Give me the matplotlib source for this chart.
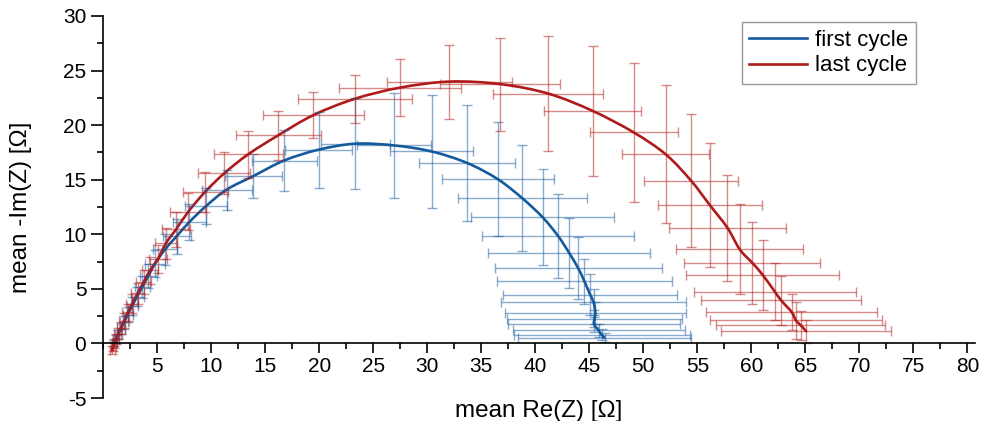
import numpy as np
import matplotlib.pyplot as plt
from matplotlib.ticker import MultipleLocator
from matplotlib.path import Path
from matplotlib.patches import PathPatch
from matplotlib.lines import Line2D

plt.rcParams['font.family'] = ['Liberation Sans', 'DejaVu Sans']
plt.rcParams['axes.unicode_minus'] = False

# first cycle: mean Re(Z), mean -Im(Z) and their std
first_x = [1.05, 1.2, 1.4, 1.65, 1.95, 2.3, 2.7, 3.15, 3.65, 4.2,
           4.81, 5.74, 6.82, 7.99, 9.54, 11.45, 13.92, 16.76, 19.94, 23.36,
           26.94, 30.40, 33.68, 36.53, 38.80, 40.68, 42.10, 43.12, 43.98, 44.54,
           45.09, 45.40, 45.56, 45.48, 45.44, 45.86, 46.14, 46.41]
first_y = [0.05, 0.4, 0.85, 1.35, 1.95, 2.65, 3.45, 4.3, 5.2, 6.2,
           7.31, 8.62, 9.83, 11.13, 12.59, 14.10, 15.34, 16.76, 17.75, 18.30,
           18.14, 17.59, 16.54, 15.05, 13.30, 11.56, 9.86, 8.32, 6.88, 5.71,
           4.45, 3.76, 2.78, 2.27, 1.74, 1.19, 0.80, 0.52]
first_xerr = [0.2, 0.25, 0.3, 0.35, 0.4, 0.45, 0.5, 0.6, 0.7, 0.8,
              0.9, 1.1, 1.30, 1.55, 1.93, 2.31, 2.62, 3.01, 3.08, 3.21,
              3.40, 3.86, 4.42, 5.17, 5.99, 6.64, 7.06, 7.53, 7.71, 8.07,
              8.07, 8.56, 8.36, 8.10, 7.98, 7.96, 8.15, 8.04]
first_yerr = [0.3, 0.35, 0.4, 0.5, 0.6, 0.7, 0.8, 0.9, 1.0, 1.1,
              1.22, 1.45, 1.61, 1.68, 1.61, 1.83, 2.06, 2.78, 3.47, 4.17,
              4.77, 5.17, 5.35, 5.23, 4.86, 4.40, 3.87, 3.21, 2.83, 2.06,
              1.88, 1.19, 1.0, 0.8, 0.7, 0.6, 0.5, 0.4]

# last cycle
last_x = [0.85, 0.95, 1.05, 1.2, 1.4, 1.65, 1.95, 2.3, 2.7, 3.2, 3.75,
          4.35, 5.06, 5.83, 6.76, 7.90, 9.44, 11.23, 13.45, 16.23, 19.47,
          23.29, 27.50, 32.06, 36.76, 41.20, 45.30, 49.10, 52.08, 54.42, 56.15,
          57.78, 58.92, 60.09, 61.06, 62.18, 62.76, 63.73, 64.12, 64.58, 65.07]
last_y = [-0.6, -0.3, 0.0, 0.4, 0.9, 1.45, 2.1, 2.85, 3.65, 4.6, 5.6,
          6.70, 7.72, 9.19, 10.46, 12.08, 13.88, 15.60, 17.34, 19.08, 20.92,
          22.41, 23.44, 23.99, 23.76, 22.89, 21.31, 19.34, 17.32, 14.91, 12.68,
          10.60, 8.62, 7.38, 6.26, 4.73, 3.94, 2.87, 2.11, 1.65, 1.12]
last_xerr = [0.25, 0.25, 0.25, 0.3, 0.35, 0.4, 0.45, 0.5, 0.55, 0.6, 0.7,
             0.75, 0.83, 1.02, 1.30, 1.67, 2.08, 2.41, 3.19, 3.94, 4.66,
             5.28, 5.67, 5.79, 5.56, 5.09, 4.51, 4.07, 4.03, 4.37, 4.83,
             5.44, 5.85, 6.30, 7.08, 7.50, 7.41, 7.94, 7.94, 7.81, 7.87]
last_yerr = [0.4, 0.4, 0.4, 0.45, 0.5, 0.55, 0.65, 0.75, 0.85, 0.95, 1.1,
             1.22, 1.27, 1.42, 1.61, 1.72, 1.83, 1.91, 2.14, 2.23, 2.14,
             2.20, 2.60, 3.39, 4.27, 5.26, 5.96, 6.38, 6.33, 6.08, 5.69,
             4.84, 4.13, 3.74, 3.21, 2.60, 2.23, 1.68, 1.68, 1.35, 1.07]

blue = '#145a9c'
red = '#b01a1a'


def spline_path(xs, ys):
    # smooth "spline connect" line through the points (cubic Bezier segments)
    p = np.column_stack([xs, ys])
    n = len(p)
    verts = [p[0]]
    codes = [Path.MOVETO]
    for i in range(n - 1):
        p0 = p[max(i - 1, 0)]
        p1 = p[i]
        p2 = p[i + 1]
        p3 = p[min(i + 2, n - 1)]
        verts += [p1 + (p2 - p0) / 6, p2 - (p3 - p1) / 6, p2]
        codes += [Path.CURVE4] * 3
    return Path(verts, codes)


fig = plt.figure(figsize=(9.86, 4.21), dpi=100)
ax = fig.add_axes([0.1045, 0.0546, 0.8844, 0.9074])

ax.errorbar(first_x, first_y, xerr=first_xerr, yerr=first_yerr, fmt='none',
            ecolor=blue, elinewidth=1.0, capsize=3.5, alpha=0.5)
ax.errorbar(last_x, last_y, xerr=last_xerr, yerr=last_yerr, fmt='none',
            ecolor=red, elinewidth=1.0, capsize=3.5, alpha=0.5)
ax.add_patch(PathPatch(spline_path(first_x, first_y), fill=False,
                       edgecolor=blue, lw=1.9, capstyle='round', joinstyle='round'))
ax.add_patch(PathPatch(spline_path(last_x, last_y), fill=False,
                       edgecolor=red, lw=1.9, capstyle='round', joinstyle='round'))

ax.set_xlim(0, 80.7)
ax.set_ylim(-5, 30)
ax.spines['top'].set_visible(False)
ax.spines['right'].set_visible(False)
ax.spines['bottom'].set_position(('data', 0))
for s in ['left', 'bottom']:
    ax.spines[s].set_linewidth(1.2)

ax.set_xticks(np.arange(5, 81, 5))
ax.set_yticks(np.arange(-5, 31, 5))
ax.xaxis.set_minor_locator(MultipleLocator(2.5))
ax.yaxis.set_minor_locator(MultipleLocator(2.5))
ax.tick_params(which='major', direction='out', length=7, width=1.2, labelsize=15, pad=3)
ax.tick_params(axis='y', which='major', length=9)
ax.tick_params(which='minor', direction='out', length=4, width=1.2)

ax.set_xlabel('mean Re(Z) [Ω]', fontsize=17.5)
ax.set_ylabel('mean -Im(Z) [Ω]', fontsize=17.5)
ax.xaxis.set_label_coords(0.5, -0.005)
ax.yaxis.set_label_coords(-0.081, 0.5)

handles = [Line2D([], [], color=blue, lw=1.9), Line2D([], [], color=red, lw=1.9)]
leg = ax.legend(handles, ['first cycle', 'last cycle'], loc='upper right',
                bbox_to_anchor=(0.932, 0.984), borderaxespad=0, fontsize=16,
                fancybox=False, framealpha=1, edgecolor='#999999',
                handlelength=2.6, borderpad=0.35, labelspacing=0.2, handletextpad=0.35)
leg.get_frame().set_linewidth(1.0)

plt.savefig('out.png')
